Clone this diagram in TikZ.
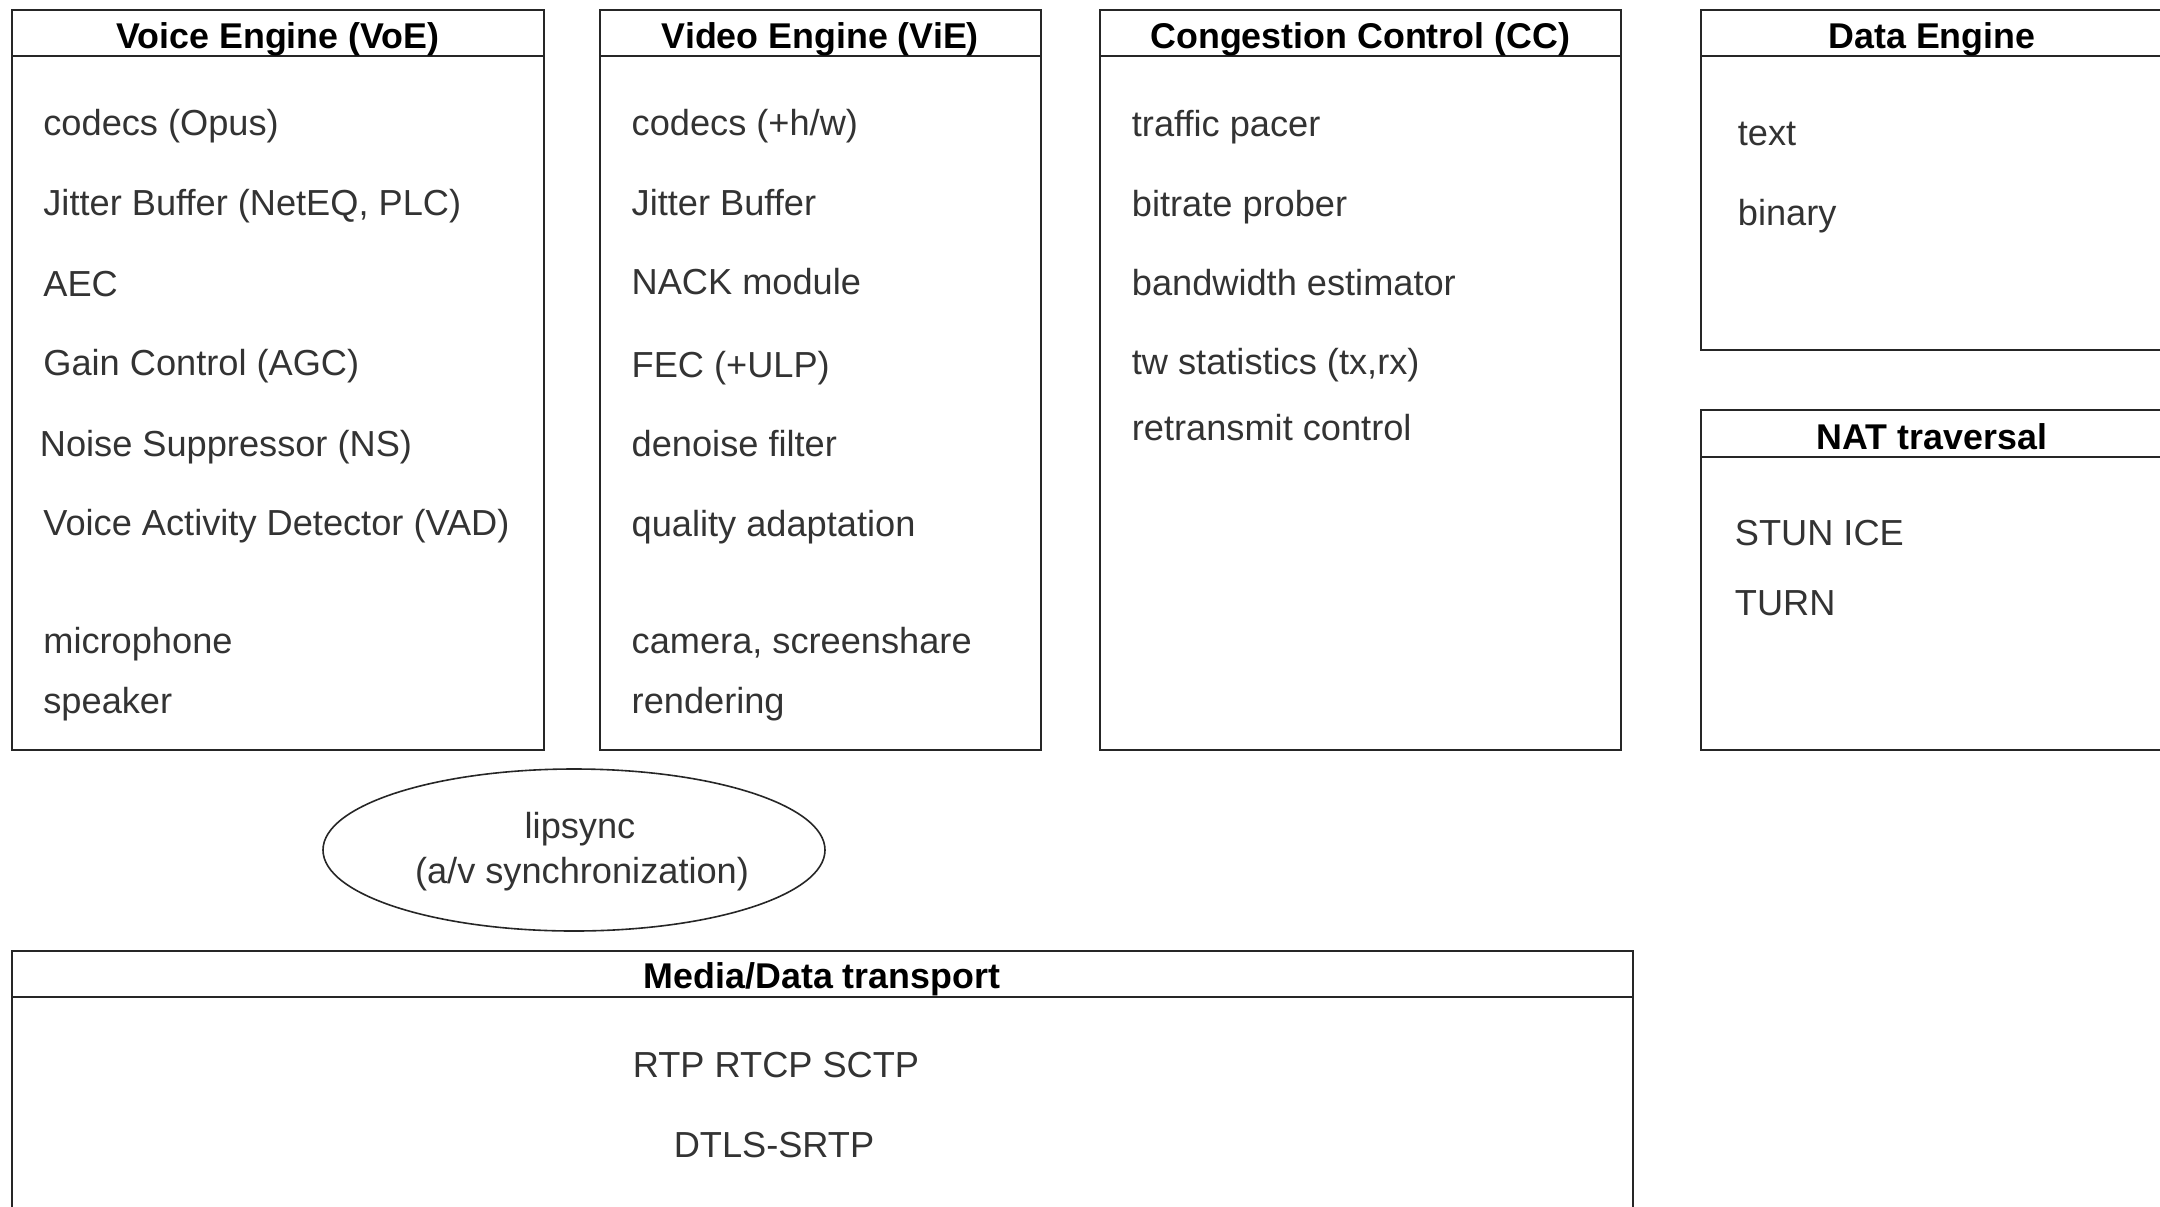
\documentclass[tikz,border=0pt]{standalone}
\usepackage{fontspec}
\setmainfont{Liberation Sans}
\usetikzlibrary{shapes.geometric}
\begin{document}
\begin{tikzpicture}[x=0.5pt,y=-0.5pt,
  frame/.style={draw=black!85, line width=1pt},
  title/.style={font=\fontsize{17.9}{21}\selectfont\bfseries, text=black, anchor=base, inner sep=0pt},
  item/.style={font=\fontsize{18.1}{21}\selectfont, text=black!80, anchor=base west, inner sep=0pt},
  centred/.style={item, anchor=base},
  bubble/.style={draw=black!85, line width=0.8pt, ellipse, inner sep=0pt}]
\useasboundingbox (0,0) rectangle (2160,1206);
\clip (0,0) rectangle (2160,1206);

% Voice Engine
\draw[frame] (12,10) rectangle (544,750);
\draw[frame] (12,56) -- (544,56);
\node[title] (voeT) at (278,48.3) {Voice Engine (VoE)};
\node[item] (voe1) at (43,135) {codecs (Opus)};
\node[item] (voe2) at (43,215) {Jitter Buffer (NetEQ, PLC)};
\node[item] (voe3) at (43,296) {AEC};
\node[item] (voe4) at (43,375) {Gain Control (AGC)};
\node[item] (voe5) at (39.5,456.5) {Noise Suppressor (NS)};
\node[item] (voe6) at (43,535) {Voice Activity Detector (VAD)};
\node[item] (voe7) at (43,653) {microphone};
\node[item] (voe8) at (43,713) {speaker};

% Video Engine
\draw[frame] (600,10) rectangle (1040.5,750);
\draw[frame] (600,56) -- (1040.5,56);
\node[title] (vieT) at (820.3,48.3) {Video Engine (ViE)};
\node[item] (vie1) at (631.3,135) {codecs (+h/w)};
\node[item] (vie2) at (631.3,215) {Jitter Buffer};
\node[item] (vie3) at (631.3,294) {NACK module};
\node[item] (vie4) at (631.3,377) {FEC (+ULP)};
\node[item] (vie5) at (631.3,456.5) {denoise filter};
\node[item] (vie6) at (631.3,536.5) {quality adaptation};
\node[item] (vie7) at (631.3,653) {camera, screenshare};
\node[item] (vie8) at (631.3,713) {rendering};

% Congestion Control
\draw[frame] (1100,10) rectangle (1620.5,750);
\draw[frame] (1100,56) -- (1620.5,56);
\node[title] (ccT) at (1360.3,48.3) {Congestion Control (CC)};
\node[item] (cc1) at (1131.5,136) {traffic pacer};
\node[item] (cc2) at (1131.5,216.5) {bitrate prober};
\node[item] (cc3) at (1131.5,295) {bandwidth estimator};
\node[item] (cc4) at (1131.5,374) {tw statistics (tx,rx)};
\node[item] (cc5) at (1131.5,440.7) {retransmit control};

% Data Engine
\draw[frame] (1700.5,10) rectangle (2163,350);
\draw[frame] (1700.5,56) -- (2163,56);
\node[title] (deT) at (1932,48.3) {Data Engine};
\node[item] (de1) at (1737.5,145) {text};
\node[item] (de2) at (1737.5,225) {binary};

% NAT traversal
\draw[frame] (1700.5,410) rectangle (2163,750);
\draw[frame] (1700.5,457) -- (2163,457);
\node[title] (natT) at (1932,449) {NAT traversal};
\node[item] (nat1) at (1734.5,545) {STUN ICE};
\node[item] (nat2) at (1734.5,615) {TURN};

% lipsync
\node[bubble, minimum width=251pt, minimum height=81pt] (lip) at (574,850) {};
\node[centred] (lip1) at (580,838) {lipsync};
\node[centred] (lip2) at (582,883) {(a/v synchronization)};

% Media/Data transport
\draw[frame] (11.5,951) rectangle (1633,1230);
\draw[frame] (11.5,997) -- (1633,997);
\node[title] (mdT) at (822,988) {Media/Data transport};
\node[centred] (md1) at (776,1077) {RTP RTCP SCTP};
\node[centred] (md2) at (774,1157) {DTLS-SRTP};
\end{tikzpicture}
\end{document}
